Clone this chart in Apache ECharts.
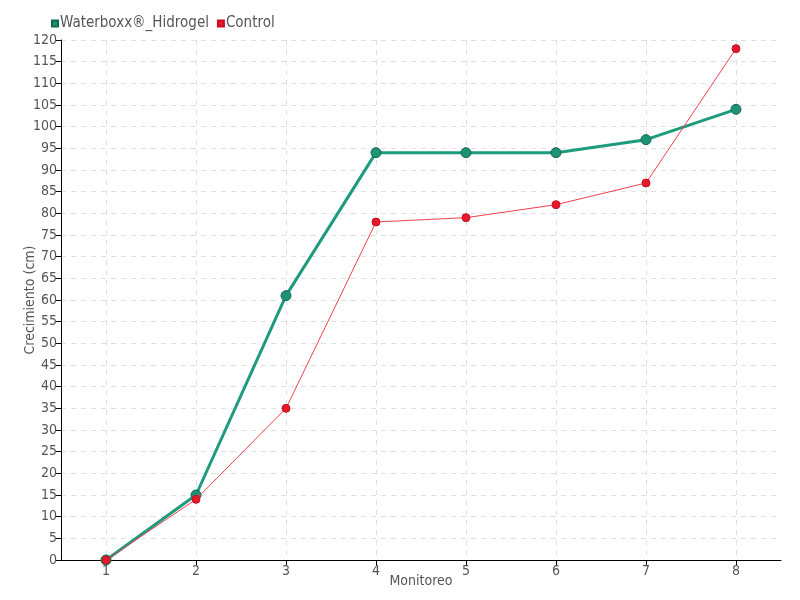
<!DOCTYPE html>
<html><head><meta charset="utf-8">
<script src="https://cdn.jsdelivr.net/npm/echarts@6/dist/echarts.min.js"></script>
<style>html,body{margin:0;padding:0;background:#fff}#c{width:800px;height:600px}</style>
</head><body><div id="c"></div>
<script>
const categories = [1, 2, 3, 4, 5, 6, 7, 8];
const waterboxx = [0, 15, 61, 94, 94, 94, 97, 104];
const control = [0, 14, 35, 78, 79, 82, 87, 118];
const seriesNames = ['Waterboxx®_Hidrogel', 'Control'];

const FONT = "'Liberation Sans Narrow', 'DejaVu Sans Condensed', sans-serif";
const chart = echarts.init(document.getElementById('c'));
chart.setOption({
  animation: false,
  textStyle: { fontFamily: FONT },
  legend: {
    left: 46, top: 11, itemWidth: 6, itemHeight: 6, itemGap: 8,
    icon: 'rect',
    textStyle: { fontFamily: FONT, fontSize: 15, color: '#555', padding: [0, 0, 0, -3] },
    data: seriesNames
  },
  grid: { left: 61, right: 19, top: 40, bottom: 40, outerBoundsMode: 'none', containLabel: false },
  xAxis: {
    type: 'value', min: 0.5, max: 8.5,
    name: 'Monitoreo', nameLocation: 'middle', nameGap: 14, nameMoveOverlap: false,
    nameTextStyle: { fontFamily: FONT, fontSize: 14, color: '#555' },
    axisLine: { lineStyle: { color: '#000', width: 1 } },
    axisTick: { show: true, customValues: categories, length: 5, lineStyle: { color: '#000' } },
    axisLabel: { customValues: categories, fontFamily: FONT, fontSize: 14, color: '#555', margin: 4 },
    splitLine: { show: true, lineStyle: { type: [5, 5], color: '#e0e0e0' } }
  },
  yAxis: {
    type: 'value', min: 0, max: 120, interval: 5,
    name: 'Crecimiento (cm)', nameLocation: 'middle', nameGap: 24, nameRotate: 90, nameMoveOverlap: false,
    nameTextStyle: { fontFamily: FONT, fontSize: 14, color: '#555' },
    axisLine: { show: true, lineStyle: { color: '#000', width: 1 } },
    axisTick: { show: true, length: 5, lineStyle: { color: '#000' } },
    axisLabel: { fontFamily: FONT, fontSize: 14, color: '#555', margin: 4 },
    splitLine: { show: true, lineStyle: { type: [5, 5], color: '#e0e0e0' } }
  },
  series: [
    {
      name: seriesNames[1], type: 'line',
      data: categories.map((c, i) => [c, control[i]]),
      color: '#e8202f',
      lineStyle: { width: 1, color: '#f0404f' },
      symbol: 'circle', symbolSize: 8,
      itemStyle: { color: '#e41a2c', borderColor: '#c8101f', borderWidth: 1 },
      z: 3
    },
    {
      name: seriesNames[0], type: 'line',
      data: categories.map((c, i) => [c, waterboxx[i]]),
      color: '#1d9b7c',
      lineStyle: { width: 3, color: '#1d9b7c' },
      symbol: 'circle', symbolSize: 10,
      itemStyle: { color: '#1e9274', borderColor: '#14684f', borderWidth: 1 },
      z: 2
    }
  ]
});
</script></body></html>
